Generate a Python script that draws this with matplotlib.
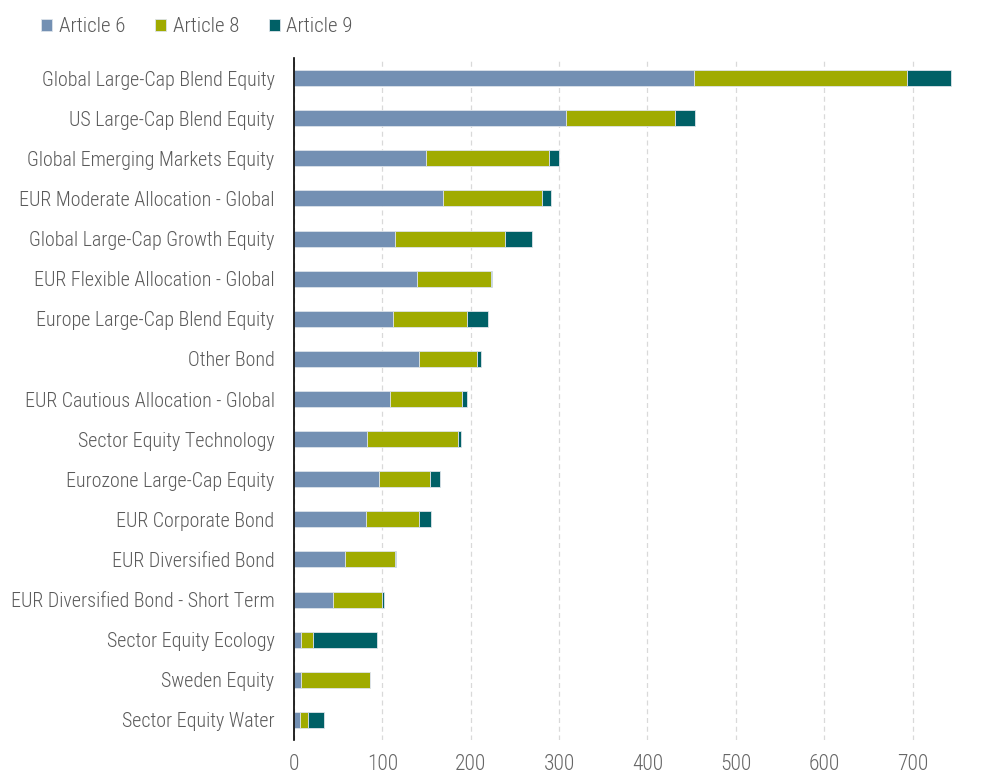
import matplotlib
matplotlib.use("Agg")
import matplotlib.pyplot as plt
from matplotlib import font_manager
import numpy as np

categories = [
    "Global Large-Cap Blend Equity",
    "US Large-Cap Blend Equity",
    "Global Emerging Markets Equity",
    "EUR Moderate Allocation - Global",
    "Global Large-Cap Growth Equity",
    "EUR Flexible Allocation - Global",
    "Europe Large-Cap Blend Equity",
    "Other Bond",
    "EUR Cautious Allocation - Global",
    "Sector Equity Technology",
    "Eurozone Large-Cap Equity",
    "EUR Corporate Bond",
    "EUR Diversified Bond",
    "EUR Diversified Bond - Short Term",
    "Sector Equity Ecology",
    "Sweden Equity",
    "Sector Equity Water",
]
article6 = [453, 308, 149, 169, 114, 139, 112, 141, 109, 83, 96, 82, 58, 44, 8, 8, 7]
article8 = [241, 123, 139, 112, 125, 84, 84, 66, 81, 103, 58, 60, 56, 56, 13, 78, 9]
article9 = [50, 23, 12, 10, 30, 1.5, 24, 5, 6, 3, 11, 13, 1.5, 2, 73, 0.5, 18.5]
series_names = ["Article 6", "Article 8", "Article 9"]
colors = ["#7390B3", "#A0AB00", "#006066"]
xticks = [0, 100, 200, 300, 400, 500, 600, 700]

# pick a condensed / narrow font if one is installed
cands = []
for f in font_manager.fontManager.ttflist:
    nm = f.name.lower()
    fn = f.fname.lower()
    cond = ("condensed" in nm or "narrow" in nm or "condensed" in fn or "narrow" in fn
            or str(f.stretch).lower() in ("condensed", "semi-condensed", "extra-condensed"))
    if cond and f.style == "normal":
        score = 0
        if "roboto" in nm or "roboto" in fn:
            score += 10
        if "liberation" in nm:
            score += 8
        if "dejavu" in nm or "dejavu" in fn:
            score += 5
        w = f.weight if isinstance(f.weight, int) else 400
        if w == 300:
            score += 3
        elif w == 400:
            score += 2
        elif w > 500:
            score -= 5
        cands.append((score, f.fname))
if cands:
    cands.sort(reverse=True)
    fp_base = font_manager.FontProperties(fname=cands[0][1])
    scale = 1.0
else:
    fp_base = font_manager.FontProperties(family="Roboto")
    scale = 0.85


def fp(size):
    p = fp_base.copy()
    p.set_size(size * scale)
    return p


fig = plt.figure(figsize=(9.95, 7.78), dpi=100)
ax = fig.add_axes([294/995, 38/778, (955-294)/995, (740-58)/778])

y = np.arange(len(categories))
left = np.zeros(len(categories))
for name, vals, c in zip(series_names, [article6, article8, article9], colors):
    vals = np.array(vals, dtype=float)
    ax.barh(y, vals, left=left, height=0.4, color=c, edgecolor="#dde3ea",
            linewidth=0.6, label=name, zorder=3)
    left += vals

ax.set_ylim(len(categories) - 0.5, -0.5)
ax.set_xlim(0, 748)
ax.set_yticks(y)
ax.set_yticklabels(categories, fontproperties=fp(14.4), color="#5a5a5a")
ax.set_xticks(xticks)
ax.set_xticklabels([str(t) for t in xticks], fontproperties=fp(15.5), color="#666666")
ax.tick_params(axis="both", length=0)
ax.tick_params(axis="y", pad=14)
ax.tick_params(axis="x", pad=10)
for s in ["top", "right", "bottom"]:
    ax.spines[s].set_visible(False)
ax.spines["left"].set_color("black")
ax.spines["left"].set_linewidth(1.2)
ax.spines["left"].set_zorder(5)
ax.grid(axis="x", color="#d9d9d9", linestyle=(0, (4, 3)), linewidth=0.9, zorder=0)
ax.set_axisbelow(True)

leg = fig.legend(loc="upper left", bbox_to_anchor=(33/995, 1 - 9/778), ncol=3,
                 frameon=False, prop=fp(15), handlelength=0.53, handleheight=0.53,
                 handletextpad=0.3, columnspacing=1.45, borderaxespad=0)
for t in leg.get_texts():
    t.set_color("#5a5a5a")

fig.savefig("out.png", dpi=100)
